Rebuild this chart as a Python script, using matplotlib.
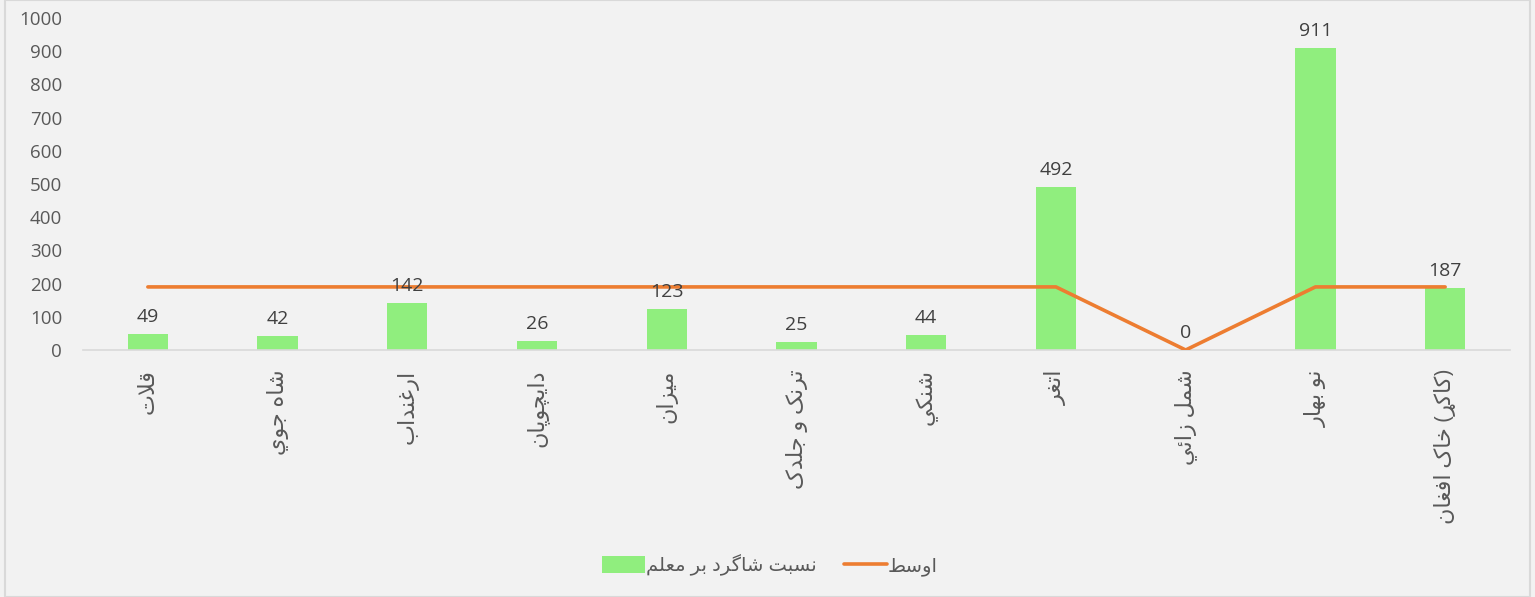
import numpy as np
import matplotlib
matplotlib.use("Agg")
import matplotlib.pyplot as plt
from matplotlib.patches import Rectangle

plt.rcParams['font.family'] = ['Open Sans', 'DejaVu Sans']

# データ
districts = ["قلات", "شاه جوي", "ارغنداب", "دایچوپان", "میزان", "ترنک و جلدک",
             "شنکي", "اتغر", "شمل زائي", "نو بهار", "(کاکړ) خاک افغان"]
ratio = [49, 42, 142, 26, 123, 25, 44, 492, 0, 911, 187]
average = [190, 190, 190, 190, 190, 190, 190, 190, 0, 190, 190]
bar_label = "نسبت شاگرد بر معلم"
line_label = "اوسط"

# 簡易アラビア文字シェーピング (iso, fin, ini, med)
FORMS = {
    'ا': (0xFE8D, 0xFE8E, None, None), 'ب': (0xFE8F, 0xFE90, 0xFE91, 0xFE92),
    'ت': (0xFE95, 0xFE96, 0xFE97, 0xFE98), 'ج': (0xFE9D, 0xFE9E, 0xFE9F, 0xFEA0),
    'خ': (0xFEA5, 0xFEA6, 0xFEA7, 0xFEA8), 'د': (0xFEA9, 0xFEAA, None, None),
    'ر': (0xFEAD, 0xFEAE, None, None), 'ز': (0xFEAF, 0xFEB0, None, None),
    'س': (0xFEB1, 0xFEB2, 0xFEB3, 0xFEB4), 'ش': (0xFEB5, 0xFEB6, 0xFEB7, 0xFEB8),
    'ط': (0xFEC1, 0xFEC2, 0xFEC3, 0xFEC4), 'ع': (0xFEC9, 0xFECA, 0xFECB, 0xFECC),
    'غ': (0xFECD, 0xFECE, 0xFECF, 0xFED0), 'ف': (0xFED1, 0xFED2, 0xFED3, 0xFED4),
    'ق': (0xFED5, 0xFED6, 0xFED7, 0xFED8), 'ل': (0xFEDD, 0xFEDE, 0xFEDF, 0xFEE0),
    'م': (0xFEE1, 0xFEE2, 0xFEE3, 0xFEE4), 'ن': (0xFEE5, 0xFEE6, 0xFEE7, 0xFEE8),
    'ه': (0xFEE9, 0xFEEA, 0xFEEB, 0xFEEC), 'و': (0xFEED, 0xFEEE, None, None),
    'ي': (0xFEF1, 0xFEF2, 0xFEF3, 0xFEF4), 'ئ': (0xFE89, 0xFE8A, 0xFE8B, 0xFE8C),
    'پ': (0xFB56, 0xFB57, 0xFB58, 0xFB59), 'چ': (0xFB7A, 0xFB7B, 0xFB7C, 0xFB7D),
    'ک': (0xFB8E, 0xFB8F, 0xFB90, 0xFB91), 'گ': (0xFB92, 0xFB93, 0xFB94, 0xFB95),
    'ی': (0xFBFC, 0xFBFD, 0xFBFE, 0xFBFF), 'ړ': (0x0693, 0x0693, None, None),
    'ﻻ': (0xFEFB, 0xFEFC, None, None),
}


def joins_left(c):
    return c in FORMS and FORMS[c][2] is not None


def shape(text):
    text = text.replace("لا", "ﻻ")
    out = []
    for i, c in enumerate(text):
        if c not in FORMS:
            out.append(c)
            continue
        prev_j = i > 0 and joins_left(text[i - 1])
        next_j = i + 1 < len(text) and text[i + 1] in FORMS and joins_left(c)
        iso, fin, ini, med = FORMS[c]
        if prev_j and next_j:
            code = med
        elif prev_j:
            code = fin
        elif next_j:
            code = ini
        else:
            code = iso
        out.append(chr(code))
    s = "".join(out)[::-1]
    # 括弧を反転
    return s.translate(str.maketrans("()", ")("))


bg = "#F2F2F2"
fig = plt.figure(figsize=(15.35, 5.97), dpi=100, facecolor=bg)
fig.patches.append(Rectangle((0.003, 0.0), 0.994, 1.0, transform=fig.transFigure,
                             fill=False, edgecolor="#D9D9D9", linewidth=1.5))
ax = fig.add_axes([83 / 1535, 1 - 350 / 597, (1510 - 83) / 1535, 332 / 597])
ax.set_facecolor(bg)

x = np.arange(len(districts))
bars = ax.bar(x, ratio, width=0.31, color="#90EE7E", label=shape(bar_label), zorder=2)
line, = ax.plot(x, average, color="#ED7D31", linewidth=2.6, label=shape(line_label),
                solid_capstyle="round", zorder=3)

for xi, v in zip(x, ratio):
    ax.text(xi, v + 24, str(v), ha="center", va="bottom", fontsize=14, color="#404040")

ax.set_xlim(-0.5, len(districts) - 0.5)
ax.set_ylim(0, 1000)
ax.set_yticks(np.arange(0, 1001, 100))
ax.set_xticks(x)
ax.set_xticklabels([shape(d) for d in districts], rotation=90, fontsize=16,
                   color="#595959", va="top", ha="center")
ax.tick_params(axis="y", labelsize=13.5, labelcolor="#595959", length=0, pad=15)
ax.tick_params(axis="x", length=0, pad=14)
for s in ["top", "right", "left"]:
    ax.spines[s].set_visible(False)
ax.spines["bottom"].set_color("#D9D9D9")
ax.spines["bottom"].set_linewidth(1.2)

leg = fig.legend([bars, line], [shape(bar_label), shape(line_label)],
                 loc="center", bbox_to_anchor=(770 / 1535, 1 - 565 / 597), ncol=2,
                 frameon=False, fontsize=14, handlelength=2.2, handleheight=0.9,
                 handletextpad=0.05, columnspacing=1.4, labelcolor="#595959")

fig.savefig("out.png", dpi=100, facecolor=bg)
